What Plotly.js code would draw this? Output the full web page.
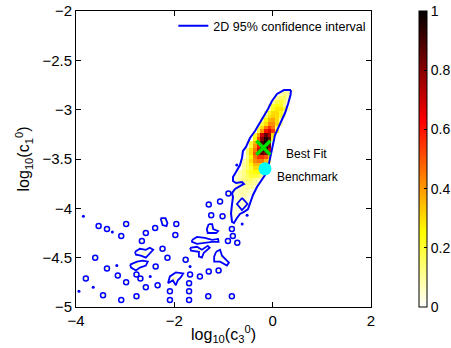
<!DOCTYPE html>
<html>
<head>
<meta charset="utf-8">
<script src="https://cdn.plot.ly/plotly-3.0.1.min.js"></script>
<style>html,body{margin:0;padding:0;background:#fff;}#chart{width:451px;height:348px;}</style>
</head>
<body>
<div id="chart"></div>
<script>
// ---- 2D histogram of log10(c3^0) vs log10(c1^0), normalised to peak = 1 ----
// bins: 80 x 80 over x in [-4, 2], y in [-5, -2]
const binXStart = -4, binXWidth = 0.075, binCountX = 80;
const binYStart = -5, binYWidth = 0.0375, binCountY = 80;

// ridge rows: row bin index, first column bin index, normalised counts
const ridgeRow  = [58,57,56,55,54,53,52,51,50,49,48,47,46,45,44,43,42,41,40,39,38,37,36,35,34,33,32,31,30,29,28,27,26,25,24];
const ridgeCol0 = [56,55,54,53,52,52,51,51,50,50,49,49,48,48,47,47,46,46,46,45,45,45,44,43,43,43,43,42,42,42,43,43,42,41,40];
const ridgeVals = [
  [0.05,0.08,0.05],
  [0.08,0.12,0.10],
  [0.10,0.15,0.15,0.08],
  [0.10,0.18,0.20,0.15,0.06],
  [0.08,0.20,0.25,0.22,0.12],
  [0.10,0.22,0.28,0.28,0.20,0.06],
  [0.10,0.22,0.30,0.30,0.22,0.08],
  [0.15,0.28,0.32,0.30,0.20,0.05],
  [0.12,0.25,0.35,0.38,0.30,0.10],
  [0.20,0.30,0.42,0.42,0.30,0.08],
  [0.15,0.30,0.45,0.55,0.45,0.15],
  [0.20,0.40,0.60,0.68,0.55,0.20],
  [0.20,0.40,0.70,0.85,0.75,0.30],
  [0.25,0.50,0.80,0.95,0.85,0.20],
  [0.20,0.35,0.65,0.90,1.00,0.80],
  [0.20,0.40,0.60,0.90,0.95,0.85],
  [0.15,0.30,0.45,0.70,0.90,0.95,0.70],
  [0.15,0.30,0.50,0.75,0.85,0.80,0.50],
  [0.12,0.25,0.45,0.55,0.55,0.50,0.35],
  [0.08,0.15,0.30,0.42,0.45,0.45,0.35,0.20],
  [0.10,0.15,0.25,0.35,0.35,0.30,0.20],
  [0.10,0.15,0.20,0.30,0.30,0.25,0.20],
  [0.08,0.12,0.18,0.22,0.25,0.25,0.15],
  [0.05,0.08,0.12,0.15,0.20,0.20,0.18,0.10],
  [0.06,0.10,0.12,0.15,0.15,0.12,0.08],
  [0.05,0.08,0.10,0.12,0.12,0.10,0.06],
  [0.04,0.06,0.08,0.10,0.10,0.06],
  [0.04,0.05,0.07,0.08,0.08,0.05],
  [0.04,0.06,0.08,0.08,0.06,0.04],
  [0.04,0.05,0.06,0.06,0.04],
  [0.04,0.05,0.05,0.04],
  [0.03,0.05,0.05,0.04],
  [0.03,0.04,0.04,0.03],
  [0.03,0.04,0.03,0.02],
  [0.03,0.03,0.02,0.02]
];
const faintLevel = 0.04;

// ---- 95% confidence contour: main region ----
const mainContourX = [0.373,0.363,0.312,0.251,0.149,0.047,-0.004,-0.044,-0.095,-0.156,-0.237,-0.319,-0.400,-0.461,-0.502,-0.583,-0.665,-0.726,-0.787,-0.827,-0.847,-0.827,-0.807,-0.827,-0.766,-0.665,-0.583,-0.624,-0.746,-0.807,-0.807,-0.746,-0.665,-0.624,-0.604,-0.543,-0.461,-0.359,-0.237,-0.095,-0.014,0.088,0.230,0.373];
const mainContourY = [-2.801,-2.851,-2.943,-3.034,-3.145,-3.257,-3.378,-3.490,-3.591,-3.662,-3.723,-3.784,-3.865,-3.946,-4.007,-4.037,-4.057,-4.098,-4.149,-4.138,-4.050,-3.960,-3.885,-3.845,-3.804,-3.774,-3.753,-3.733,-3.743,-3.723,-3.682,-3.632,-3.561,-3.490,-3.419,-3.378,-3.287,-3.216,-3.115,-2.993,-2.912,-2.841,-2.801,-2.801];

// irregular contour islands
const islandX = [
  [-0.624,-0.512,-0.624,-0.726,-0.624],
  [-2.28,-2.18,-2.14,-2.16,-2.24,-2.26,-2.28],
  [-2.80,-2.70,-2.58,-2.50,-2.43,-2.50,-2.58,-2.68,-2.78,-2.80],
  [-2.90,-2.76,-2.64,-2.54,-2.58,-2.70,-2.78,-2.88,-2.90],
  [-2.13,-2.09,-1.97,-1.82,-1.87,-1.93,-1.97,-2.03,-2.13],
  [-1.68,-1.54,-1.44,-1.32,-1.28,-1.40,-1.44,-1.50,-1.50,-1.66,-1.68],
  [-1.64,-1.54,-1.38,-1.23,-1.11,-1.10,-1.23,-1.38,-1.54,-1.64,-1.64],
  [-1.30,-1.23,-1.21,-1.11,-1.15,-1.32,-1.34,-1.30],
  [-1.15,-1.07,-1.03,-0.89,-0.93,-1.07,-1.19,-1.19,-1.15]
];
const islandY = [
  [-3.895,-3.956,-4.017,-3.956,-3.895],
  [-4.10,-4.10,-4.15,-4.18,-4.17,-4.14,-4.10],
  [-4.44,-4.41,-4.42,-4.40,-4.42,-4.46,-4.50,-4.48,-4.47,-4.44],
  [-4.57,-4.54,-4.53,-4.54,-4.58,-4.60,-4.63,-4.60,-4.57],
  [-4.76,-4.69,-4.65,-4.66,-4.70,-4.73,-4.78,-4.73,-4.76],
  [-4.40,-4.39,-4.42,-4.38,-4.40,-4.45,-4.50,-4.49,-4.44,-4.43,-4.40],
  [-4.32,-4.29,-4.30,-4.32,-4.31,-4.34,-4.34,-4.35,-4.36,-4.34,-4.32],
  [-4.16,-4.16,-4.21,-4.23,-4.25,-4.25,-4.21,-4.16],
  [-4.44,-4.42,-4.48,-4.55,-4.58,-4.54,-4.54,-4.49,-4.44]
];

// small closed contour rings (centres)
const ringX = [-3.54,-3.37,-2.98,-3.08,-2.58,-2.39,-1.96,-1.98,-2.66,-3.61,-3.37,-3.15,-3.80,-3.45,-3.08,-2.98,-2.77,-2.58,-2.77,-2.69,-2.34,-2.38,-2.24,-2.14,-2.09,-2.09,-1.68,-1.70,-1.70,-1.70,-1.30,-1.10,-1.31,-0.83,-0.91,-0.81,-0.72,-0.83,-1.02,-1.25,-1.30,-1.07,-0.90,-1.77,-1.48];
const ringY = [-4.18,-4.21,-4.16,-4.28,-4.25,-4.20,-4.16,-4.27,-4.33,-4.50,-4.61,-4.68,-4.71,-4.88,-4.93,-4.75,-4.89,-4.80,-4.67,-4.71,-4.78,-4.59,-4.41,-4.50,-4.84,-4.93,-4.67,-4.76,-4.84,-4.93,-4.64,-4.63,-4.89,-4.89,-4.33,-4.28,-4.35,-4.21,-4.08,-4.07,-3.96,-3.93,-3.85,-4.52,-4.69];
// tiny contour dots
const dotX = [-3.85,-3.26,-3.17,-3.65,-2.49,-1.68,-0.52,-0.73,-0.62,-3.94];
const dotY = [-4.08,-4.24,-4.58,-4.80,-4.69,-4.59,-4.07,-3.56,-4.16,-4.84];

// markers
const bestFitX = [-0.19], bestFitY = [-3.385];
const benchX = [-0.156], benchY = [-3.60];

const xTicks = [-4,-2,0,2];
const yTicks = [-5,-4.5,-4,-3.5,-3,-2.5,-2];
const cbTicks = [0,0.2,0.4,0.6,0.8,1];

// ---- build histogram grid ----
const z = [];
for (let j = 0; j < binCountY; j++) { z.push(new Array(binCountX).fill(null)); }
function setCell(x, y, v) {
  const i = Math.floor((x - binXStart) / binXWidth);
  const j = Math.floor((y - binYStart) / binYWidth);
  if (i >= 0 && i < binCountX && j >= 0 && j < binCountY && z[j][i] === null) z[j][i] = v;
}
ridgeRow.forEach((j, k) => {
  ridgeVals[k].forEach((v, m) => { z[j][ridgeCol0[k] + m] = v; });
});
ringX.forEach((x, k) => setCell(x, ringY[k], faintLevel));
islandX.forEach((xs, k) => {
  const cx = xs.reduce((a, b) => a + b, 0) / xs.length;
  const cy = islandY[k].reduce((a, b) => a + b, 0) / xs.length;
  setCell(cx, cy, faintLevel * 1.5);
});

const islandPathX = [], islandPathY = [];
islandX.forEach((xs, k) => { islandPathX.push(...xs, null); islandPathY.push(...islandY[k], null); });

const hotFlip = [[0,'rgb(255,255,255)'],[0.25,'rgb(255,255,0)'],[0.625,'rgb(255,0,0)'],[1,'rgb(0,0,0)']];
const blue = '#0000ff';
const green = '#00e000';

const traces = [
  {
    type: 'heatmap', z: z,
    x0: binXStart + binXWidth / 2, dx: binXWidth,
    y0: binYStart + binYWidth / 2, dy: binYWidth,
    zmin: 0, zmax: 1, colorscale: hotFlip, zsmooth: false,
    hoverinfo: 'skip', showlegend: false,
    colorbar: {
      x: 0.928, xanchor: 'left', xref: 'container', y: 0.5, yanchor: 'middle',
      len: 1, lenmode: 'fraction', thickness: 8, thicknessmode: 'pixels',
      outlinewidth: 1, outlinecolor: '#000', xpad: 0, ypad: 0,
      tickvals: cbTicks, ticks: 'inside', ticklen: 3, tickcolor: '#000',
      tickfont: {family: 'Arial, Liberation Sans, sans-serif', size: 14, color: '#000'}
    }
  },
  {
    type: 'scatter', mode: 'lines', x: mainContourX, y: mainContourY,
    name: '2D 95% confidence interval', legendgroup: 'ci',
    line: {color: blue, width: 2}, hoverinfo: 'skip'
  },
  {
    type: 'scatter', mode: 'lines', x: islandPathX, y: islandPathY,
    legendgroup: 'ci', showlegend: false, connectgaps: false,
    line: {color: blue, width: 1.8}, hoverinfo: 'skip'
  },
  {
    type: 'scatter', mode: 'markers', x: ringX, y: ringY,
    legendgroup: 'ci', showlegend: false,
    marker: {symbol: 'circle-open', size: 5, color: blue, line: {color: blue, width: 1.5}},
    hoverinfo: 'skip'
  },
  {
    type: 'scatter', mode: 'markers', x: dotX, y: dotY,
    legendgroup: 'ci', showlegend: false,
    marker: {symbol: 'circle', size: 3, color: blue},
    hoverinfo: 'skip'
  },
  {
    type: 'scatter', mode: 'markers', x: benchX, y: benchY, name: 'Benchmark',
    showlegend: false,
    marker: {symbol: 'circle', size: 13, color: '#00ffff', line: {width: 0}},
    hoverinfo: 'skip'
  },
  {
    type: 'scatter', mode: 'markers', x: bestFitX, y: bestFitY, name: 'Best Fit',
    showlegend: false,
    marker: {symbol: 'x-thin-open', size: 14, color: green, line: {color: green, width: 3.5}},
    hoverinfo: 'skip'
  }
];

const font = 'Arial, Liberation Sans, sans-serif';
const axisCommon = {
  showline: true, linecolor: '#000', linewidth: 1, mirror: 'ticks',
  ticks: 'inside', ticklen: 5, tickcolor: '#000', tickwidth: 1,
  showgrid: false, zeroline: false, automargin: false,
  tickfont: {family: font, size: 15, color: '#000'}
};

const layout = {
  width: 451, height: 348,
  margin: {l: 76, r: 80, t: 11, b: 41, pad: 0, autoexpand: false},
  paper_bgcolor: '#fff', plot_bgcolor: '#fff',
  font: {family: font, color: '#000'},
  xaxis: Object.assign({}, axisCommon, {
    range: [-4, 2], tickvals: xTicks,
    title: {text: 'log<sub>10</sub>(c<sub>3</sub><sup>0</sup>)', font: {family: font, size: 16, color: '#000'}, standoff: 0}
  }),
  yaxis: Object.assign({}, axisCommon, {
    range: [-5, -2], tickvals: yTicks,
    title: {text: 'log<sub>10</sub>(c<sub>1</sub><sup>0</sup>)', font: {family: font, size: 16, color: '#000'}, standoff: 8}
  }),
  showlegend: true,
  legend: {
    x: 0.33, xanchor: 'left', y: 1.0, yanchor: 'top',
    bgcolor: 'rgba(255,255,255,0)', borderwidth: 0,
    font: {family: font, size: 12.5, color: '#000'}
  },
  annotations: [
    {x: 0.23, y: -3.446, xref: 'x', yref: 'y', text: 'Best Fit', showarrow: false, xanchor: 'left', yanchor: 'middle', font: {family: font, size: 12, color: '#000'}},
    {x: 0.047, y: -3.679, xref: 'x', yref: 'y', text: 'Benchmark', showarrow: false, xanchor: 'left', yanchor: 'middle', font: {family: font, size: 12, color: '#000'}}
  ]
};

Plotly.newPlot('chart', traces, layout, {staticPlot: true, displayModeBar: false});
</script>
</body>
</html>
